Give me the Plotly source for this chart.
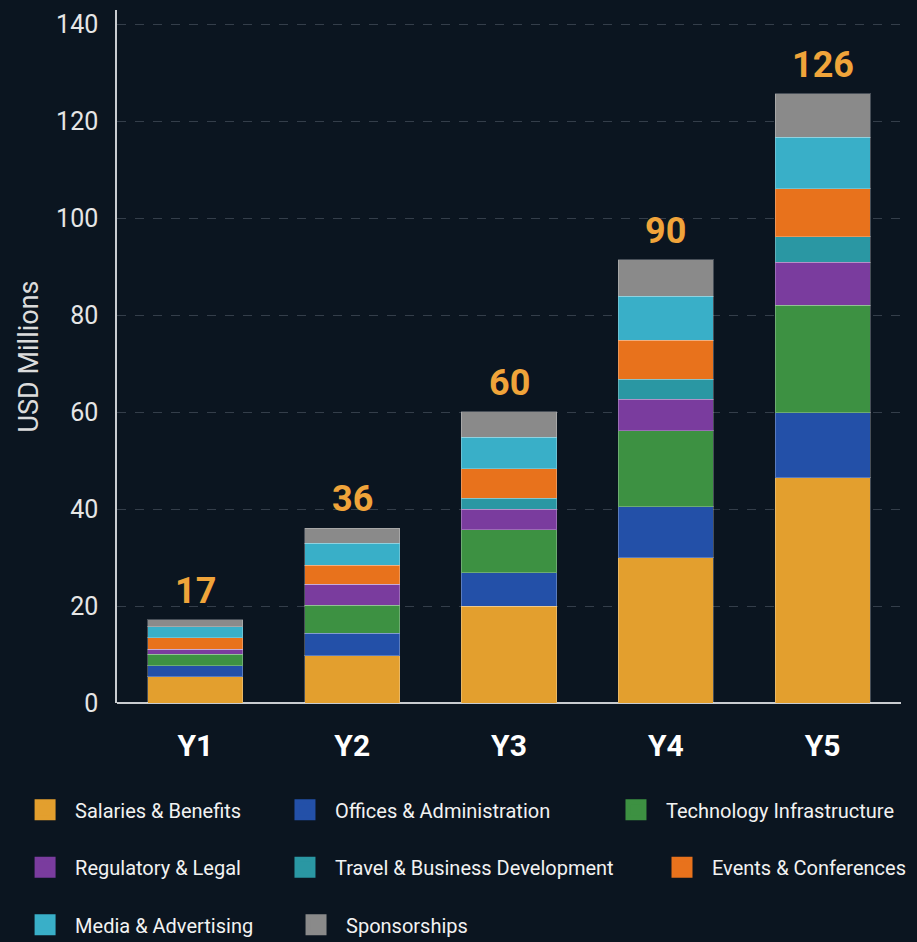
import plotly.graph_objects as go

years = ["Y1", "Y2", "Y3", "Y4", "Y5"]
total_labels = ["17", "36", "60", "90", "126"]

salaries = [5.4, 9.8, 20.0, 30.0, 46.5]
offices = [2.3, 4.6, 6.9, 10.5, 13.4]
technology = [2.4, 5.8, 8.9, 15.7, 22.2]
regulatory = [1.0, 4.3, 4.2, 6.5, 8.9]
travel = [0.0, 0.0, 2.2, 4.1, 5.2]
events = [2.4, 3.9, 6.1, 8.1, 9.9]
media = [2.2, 4.6, 6.5, 9.0, 10.6]
sponsorships = [1.5, 3.1, 5.3, 7.6, 9.0]

series_names = ["Salaries & Benefits", "Offices & Administration", "Technology Infrastructure",
                "Regulatory & Legal", "Travel & Business Development", "Events & Conferences",
                "Media & Advertising", "Sponsorships"]
series_values = [salaries, offices, technology, regulatory, travel, events, media, sponsorships]
colors = ["#E39F2E", "#2350A8", "#3D9142", "#7A3C9E", "#2A97A3", "#E8721C", "#39AFC8", "#8A8A8A"]

# legend placement (paper coords) - layout only
legend_pos = [(-0.130, -0.154), (0.2015, -0.154), (0.6237, -0.154),
              (-0.130, -0.237), (0.2015, -0.237), (0.6824, -0.237),
              (-0.130, -0.320), (0.2156, -0.320)]

BG = "#0b1520"
LEG_FONT = "Roboto, sans-serif"

fig = go.Figure()
for name, vals, col in zip(series_names, series_values, colors):
    fig.add_trace(go.Bar(
        x=years, y=vals, name=name, showlegend=False,
        marker=dict(color=col, line=dict(color="rgba(255,255,255,0.25)", width=1)),
    ))

# legend entries
for i, (name, col) in enumerate(zip(series_names, colors)):
    lg = "legend" if i == 0 else f"legend{i+1}"
    fig.add_trace(go.Scatter(
        x=[None], y=[None], mode="markers", name=name, legend=lg, showlegend=True,
        marker=dict(symbol="square", size=16, color=col, line=dict(color=col, width=5)),
    ))

totals = [sum(v) for v in zip(*series_values)]
for yr, tot, lab in zip(years, totals, total_labels):
    fig.add_annotation(x=yr, y=tot, text=f"<b>{lab}</b>", showarrow=False,
                       yanchor="bottom", yshift=6,
                       font=dict(family="Roboto, sans-serif", size=36, color="#F0A43A"))

legend_layout = {}
for i, (lx, ly) in enumerate(legend_pos):
    key = "legend" if i == 0 else f"legend{i+1}"
    legend_layout[key] = dict(
        x=lx, y=ly, xanchor="left", yanchor="middle", orientation="h",
        itemwidth=50, bgcolor="rgba(0,0,0,0)",
        font=dict(family=LEG_FONT, size=20, color="#f2f2f2"),
    )

fig.update_layout(
    width=917, height=942,
    margin=dict(l=117, r=16, t=10, b=239, autoexpand=False),
    paper_bgcolor=BG, plot_bgcolor=BG,
    barmode="stack", bargap=0.393,
    xaxis=dict(
        showline=False, showgrid=False, ticks="", zeroline=False,
        tickfont=dict(family="Roboto, sans-serif", size=30, color="#ffffff", weight="bold"),
        ticklabelstandoff=22,
    ),
    yaxis=dict(
        range=[0, 143], tickvals=[0, 20, 40, 60, 80, 100, 120, 140],
        showline=True, linecolor="#c9ccd0", linewidth=1.5,
        zeroline=True, zerolinecolor="#c9ccd0", zerolinewidth=1.5,
        showgrid=True, gridcolor="#343e4a", griddash="dash", gridwidth=1,
        ticks="", ticklabelstandoff=12,
        tickfont=dict(family="Roboto, sans-serif", size=25, color="#e6e6e6"),
        title=dict(text="USD Millions", standoff=10,
                   font=dict(family="Roboto, sans-serif", size=27, color="#dcdcdc")),
    ),
    **legend_layout,
)

fig.write_html("out.html", config={"displayModeBar": False},
               post_script="document.body.style.margin='0';document.body.style.background='" + BG + "';")
